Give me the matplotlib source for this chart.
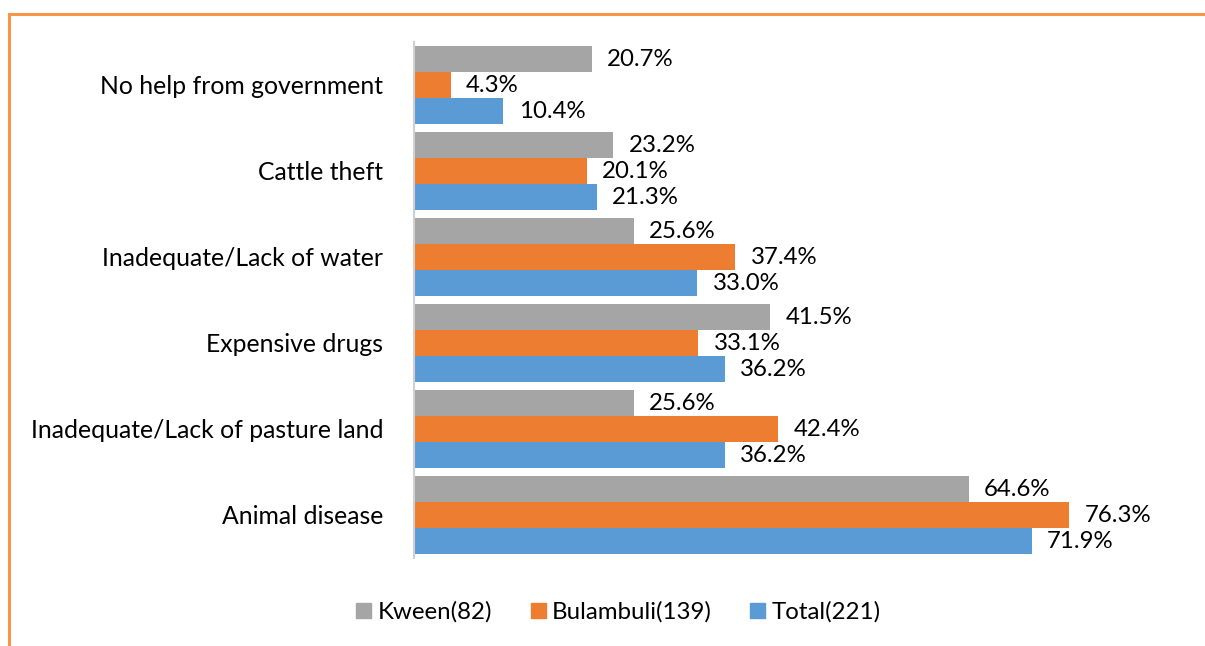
import matplotlib
matplotlib.use("Agg")
import matplotlib.pyplot as plt
from matplotlib.lines import Line2D
import numpy as np

plt.rcParams['font.family'] = ['Lato', 'DejaVu Sans']

categories = ["Animal disease", "Inadequate/Lack of pasture land", "Expensive drugs",
              "Inadequate/Lack of water", "Cattle theft", "No help from government"]
kween = [64.6, 25.6, 41.5, 25.6, 23.2, 20.7]
bulambuli = [76.3, 42.4, 33.1, 37.4, 20.1, 4.3]
total = [71.9, 36.2, 36.2, 33.0, 21.3, 10.4]
series_names = ["Kween(82)", "Bulambuli(139)", "Total(221)"]
colors = ["#A5A5A5", "#ED7D31", "#5B9BD5"]

FS = 17.3

fig = plt.figure(figsize=(12.05, 6.46), dpi=100)
ax = fig.add_axes([414/1205, 1-558/646, (1187-414)/1205, (558-42)/646])

y = np.arange(len(categories))
h = 26/86
offsets = [h, 0, -h]
for vals, off, c in zip([kween, bulambuli, total], offsets, colors):
    ax.barh(y + off, vals, height=h, color=c, edgecolor='none')
    for yi, v in zip(y, vals):
        ax.annotate(f"{v:.1f}%", (v, yi + off), xytext=(11, 0), textcoords='offset points',
                    ha='left', va='center', fontsize=FS, color='#000000')

ax.set_xlim(0, 90)
ax.set_ylim(-0.5, len(categories) - 0.5)
ax.set_yticks(y)
ax.set_yticklabels(categories, fontsize=17.8)
ax.tick_params(axis='y', length=0, pad=22)
ax.set_xticks([])
for s in ['top', 'right', 'bottom']:
    ax.spines[s].set_visible(False)
ax.spines['left'].set_color('#D0D0D0')
ax.spines['left'].set_linewidth(1.5)

handles = [Line2D([], [], marker='s', linestyle='none', markersize=10.8,
                  markerfacecolor=c, markeredgecolor=c) for c in colors]
fig.legend(handles, series_names, loc='center', bbox_to_anchor=(616/1205, 1-612/646),
           ncol=3, frameon=False, fontsize=FS, handletextpad=0.1, columnspacing=1.4,
           handlelength=1.0)

# outer orange border (top and left)
fig.add_artist(Line2D([9/1205, 1.0], [1-14/646, 1-14/646], color='#F79646', lw=2.2,
                      transform=fig.transFigure))
fig.add_artist(Line2D([9/1205, 9/1205], [0, 1-14/646], color='#F79646', lw=2.2,
                      transform=fig.transFigure))

fig.savefig("out.png", dpi=100)
